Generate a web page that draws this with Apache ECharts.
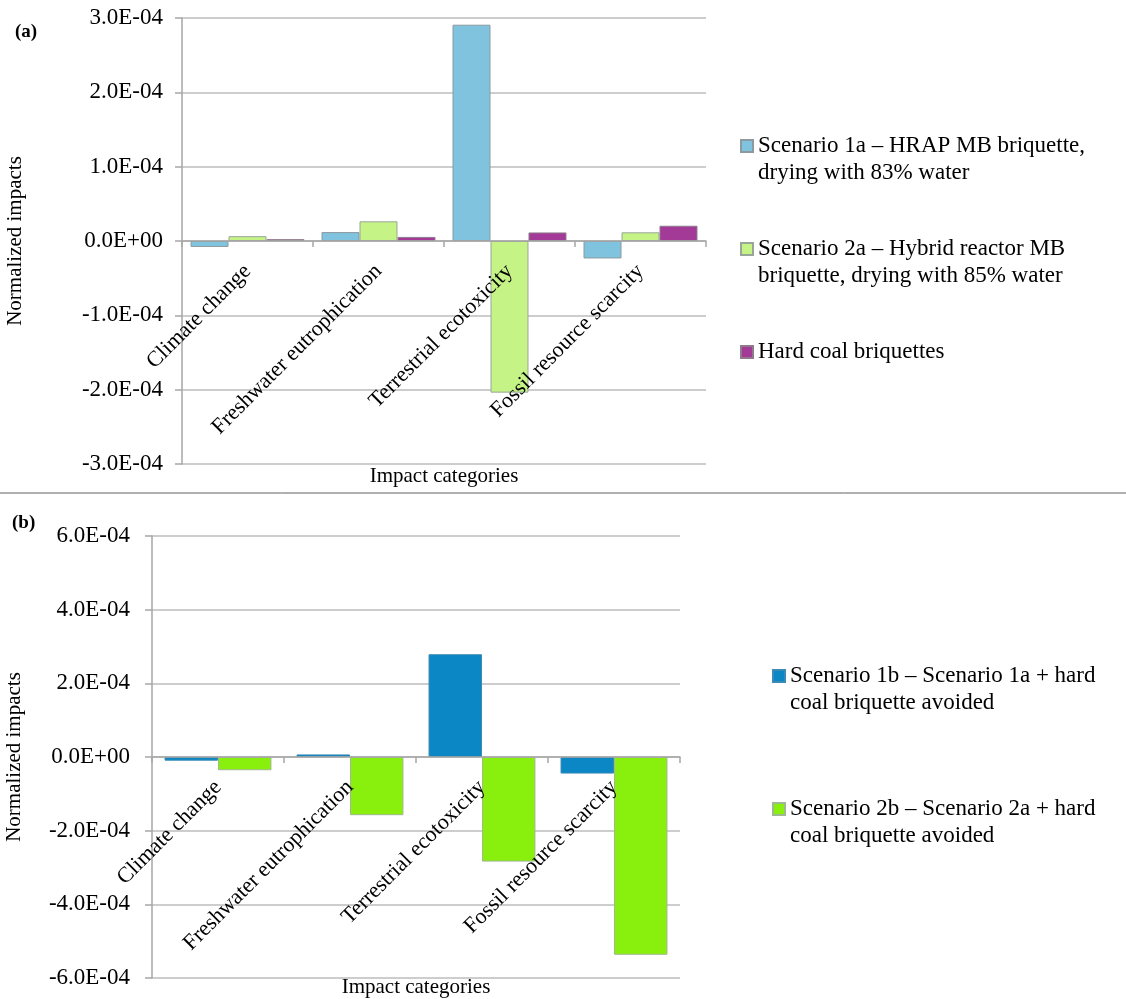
<!DOCTYPE html>
<html>
<head>
<meta charset="utf-8">
<title>Normalized impacts</title>
<script src="https://cdn.jsdelivr.net/npm/echarts@6/dist/echarts.min.js"></script>
<style>
  html, body { margin: 0; padding: 0; background: #ffffff; }
  #chart { width: 1126px; height: 999px; }
</style>
</head>
<body>
<div id="chart"></div>
<script>
// Impact categories shared by both panels
const categories = ['Climate change', 'Freshwater eutrophication', 'Terrestrial ecotoxicity', 'Fossil resource scarcity'];

// Panel (a): normalized impacts per scenario
const scenario1a = [-8.0e-6, 1.2e-5, 2.91e-4, -2.35e-5];
const scenario2a = [6.5e-6, 2.65e-5, -2.04e-4, 1.17e-5];
const hardCoal   = [2.5e-6, 5.5e-6, 1.15e-5, 2.05e-5];

// Panel (b): scenarios with hard coal briquettes avoided
const scenario1b = [-1.0e-5, 7.0e-6, 2.79e-4, -4.5e-5];
const scenario2b = [-3.6e-5, -1.58e-4, -2.84e-4, -5.37e-4];

// Series names (legend text)
const name1a = 'Scenario 1a \u2013 HRAP MB briquette,\ndrying with 83% water';
const name2a = 'Scenario 2a \u2013 Hybrid reactor MB\nbriquette, drying with 85% water';
const nameHc = 'Hard coal briquettes';
const name1b = 'Scenario 1b \u2013 Scenario 1a + hard\ncoal briquette avoided';
const name2b = 'Scenario 2b \u2013 Scenario 2a + hard\ncoal briquette avoided';

const serif = "'Times New Roman', 'Liberation Serif', serif";

// Scientific notation like 3.0E-04 / 0.0E+00
function sci(v) {
  if (Math.abs(v) < 1e-12) return '0.0E+00';
  let e = Math.floor(Math.log10(Math.abs(v)));
  let m = v / Math.pow(10, e);
  if (Math.abs(Math.round(m * 10) / 10) >= 10) { e += 1; m = v / Math.pow(10, e); }
  const ae = Math.abs(e);
  return m.toFixed(1) + 'E' + (e < 0 ? '-' : '+') + (ae < 10 ? '0' + ae : ae);
}

// Legend text: a blank row above (and below, for one-line entries) so the swatch
// lines up with the first row of text
function legendText(name) {
  return name.indexOf('\n') >= 0 ? ' \n' + name : ' \n' + name + '\n ';
}

function valueAxis(gridIndex, min, max, interval, labelMargin, nameGap) {
  return {
    type: 'value', gridIndex, min, max, interval,
    name: 'Normalized impacts', nameLocation: 'middle', nameGap,
    nameMoveOverlap: false,
    nameTextStyle: { fontFamily: serif, fontSize: 21, color: '#000' },
    axisLine: { show: true, lineStyle: { color: '#a6a6a6', width: 1.5 } },
    axisTick: { show: true, length: 7, lineStyle: { color: '#a6a6a6', width: 1.5 } },
    axisLabel: { formatter: sci, fontFamily: serif, fontSize: 23, color: '#000', margin: labelMargin },
    splitLine: { show: true, lineStyle: { color: '#bdbdbd', width: 1.5 } }
  };
}

// The category axis sits on the zero line: it is shifted up from the grid bottom by `offset`
function categoryAxis(gridIndex, offset, nameGap) {
  return {
    type: 'category', gridIndex, data: categories, position: 'bottom', offset,
    z: 5,
    name: 'Impact categories', nameLocation: 'middle', nameGap,
    nameMoveOverlap: false,
    nameTextStyle: { fontFamily: serif, fontSize: 21, color: '#000' },
    axisLine: { show: true, onZero: false, lineStyle: { color: '#a6a6a6', width: 1.5 } },
    axisTick: { show: true, interval: 0, length: 6, lineStyle: { color: '#a6a6a6', width: 1.5 } },
    axisLabel: { interval: 0, rotate: 45, fontFamily: serif, fontSize: 22, color: '#000', margin: 27, hideOverlap: false }
  };
}

const legendBase = {
  orient: 'vertical', padding: 0, itemWidth: 12, itemHeight: 12, icon: 'rect',
  formatter: legendText,
  textStyle: { fontFamily: serif, fontSize: 23, color: '#000', lineHeight: 27 }
};

const option = {
  backgroundColor: '#ffffff',
  animation: false,
  title: [
    { text: '(a)', left: 15, top: 23, padding: 0, textStyle: { fontFamily: serif, fontSize: 19, fontWeight: 'bold', color: '#000' } },
    { text: '(b)', left: 12, top: 514, padding: 0, textStyle: { fontFamily: serif, fontSize: 19, fontWeight: 'bold', color: '#000' } }
  ],
  graphic: [
    { type: 'line', shape: { x1: 0, y1: 493, x2: 1126, y2: 493 }, style: { stroke: '#606060', lineWidth: 1 } }
  ],
  legend: [
    Object.assign({}, legendBase, { left: 740, top: 105.5, itemGap: 22, data: [name1a, name2a, nameHc] }),
    Object.assign({}, legendBase, { left: 772, top: 635.5, itemGap: 52, data: [name1b, name2b] })
  ],
  grid: [
    { left: 182, top: 18, width: 524, height: 446, containLabel: false, outerBoundsMode: 'none' },
    { left: 152, top: 536, width: 528, height: 442, containLabel: false, outerBoundsMode: 'none' }
  ],
  xAxis: [categoryAxis(0, -223, 225), categoryAxis(1, -221, 220)],
  yAxis: [valueAxis(0, -3e-4, 3e-4, 1e-4, 19, 156), valueAxis(1, -6e-4, 6e-4, 2e-4, 22, 127)],
  series: [
    { name: name1a, type: 'bar', xAxisIndex: 0, yAxisIndex: 0, data: scenario1a, barGap: '0%', barCategoryGap: '13%',
      itemStyle: { color: '#7fc3de', borderColor: '#8c9aa0', borderWidth: 1 } },
    { name: name2a, type: 'bar', xAxisIndex: 0, yAxisIndex: 0, data: scenario2a, barGap: '0%', barCategoryGap: '13%',
      itemStyle: { color: '#c5f386', borderColor: '#9aa59a', borderWidth: 1 } },
    { name: nameHc, type: 'bar', xAxisIndex: 0, yAxisIndex: 0, data: hardCoal, barGap: '0%', barCategoryGap: '13%',
      itemStyle: { color: '#a33a97', borderColor: '#8f7a8c', borderWidth: 1 } },
    { name: name1b, type: 'bar', xAxisIndex: 1, yAxisIndex: 1, data: scenario1b, barGap: '0%', barCategoryGap: '19%',
      itemStyle: { color: '#0a87c4', borderColor: '#3a8ab5', borderWidth: 1 } },
    { name: name2b, type: 'bar', xAxisIndex: 1, yAxisIndex: 1, data: scenario2b, barGap: '0%', barCategoryGap: '19%',
      itemStyle: { color: '#88f00c', borderColor: '#a0b890', borderWidth: 1 } }
  ]
};

const chart = echarts.init(document.getElementById('chart'), null, { renderer: 'canvas' });
chart.setOption(option);
</script>
</body>
</html>
